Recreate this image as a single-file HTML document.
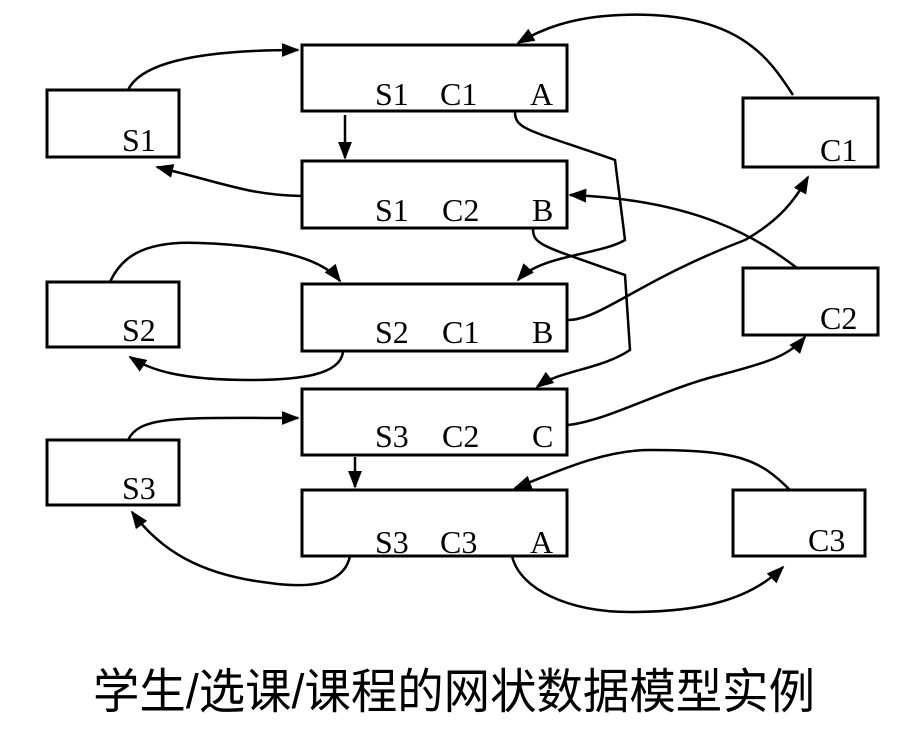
<!DOCTYPE html>
<html><head><meta charset="utf-8"><style>
html,body{margin:0;padding:0;background:#fff;}
svg{display:block;}
text{font-family:"Liberation Serif",serif;fill:#000;}
.cap{font-family:"Liberation Sans","Noto Sans CJK SC",sans-serif;}
</style></head><body>
<svg width="918" height="738" viewBox="0 0 918 738" xmlns="http://www.w3.org/2000/svg">
<defs>
<marker id="a" viewBox="0 0 10 10" refX="9" refY="5" markerWidth="18" markerHeight="14" orient="auto" markerUnits="userSpaceOnUse" preserveAspectRatio="none">
<path d="M0,0 L10,5 L0,10 z" fill="#000"/>
</marker>
</defs>
<g fill="none" stroke="#000" stroke-width="3">
<rect x="302" y="45" width="265" height="66"/>
<rect x="302" y="161" width="265" height="67"/>
<rect x="302" y="284" width="265" height="67"/>
<rect x="302" y="389" width="265" height="66"/>
<rect x="302" y="490" width="265" height="66"/>
<rect x="47" y="90" width="132" height="67"/>
<rect x="47" y="282" width="132" height="65"/>
<rect x="47" y="440" width="132" height="65"/>
<rect x="743" y="98" width="135" height="69"/>
<rect x="743" y="268" width="135" height="67"/>
<rect x="733" y="490" width="132" height="66"/>
</g>
<g fill="none" stroke="#000" stroke-width="2.5" marker-end="url(#a)">
<path d="M128,90 C140,65 190,50 298,50"/>
<path d="M345,115 L345,158"/>
<path d="M302,196 C250,195 230,185 157,167"/>
<path d="M793,95 C770,60 740,10 620,15 C570,17 540,30 518,43"/>
<path d="M515,112 C515,130 530,130 615,160 L625,240 C600,255 540,255 518,280"/>
<path d="M797,268 C760,240 700,200 570,195"/>
<path d="M533,228 C533,245 540,245 625,275 L630,350 C600,370 560,370 537,387"/>
<path d="M110,282 C120,260 140,240 200,243 C260,245 320,255 340,281"/>
<path d="M343,352 C340,375 300,380 250,380 C180,380 150,370 130,357"/>
<path d="M568,320 C600,320 640,280 745,240 C780,220 795,200 808,177"/>
<path d="M568,425 C610,420 660,390 720,375 C770,362 790,355 805,337"/>
<path d="M128,440 C140,415 180,418 298,418"/>
<path d="M355,457 L355,487"/>
<path d="M790,490 C760,460 740,450 650,450 C600,450 550,475 515,488"/>
<path d="M350,556 C345,580 320,590 270,583 C200,575 160,550 132,512"/>
<path d="M512,556 C520,590 570,612 630,612 C700,612 750,600 783,567"/>
</g>
<g font-size="32">
<text x="375" y="105">S1</text><text x="440" y="105">C1</text><text x="530" y="105">A</text>
<text x="375" y="221">S1</text><text x="442" y="221">C2</text><text x="532" y="221">B</text>
<text x="375" y="343">S2</text><text x="442" y="343">C1</text><text x="532" y="343">B</text>
<text x="375" y="447">S3</text><text x="442" y="447">C2</text><text x="532" y="447">C</text>
<text x="375" y="553">S3</text><text x="440" y="553">C3</text><text x="530" y="553">A</text>
<text x="122" y="151">S1</text>
<text x="122" y="341">S2</text>
<text x="122" y="499">S3</text>
<text x="820" y="161">C1</text>
<text x="820" y="329">C2</text>
<text x="808" y="551">C3</text>
</g>
<text class="cap" x="93" y="708" font-size="48" textLength="722" lengthAdjust="spacingAndGlyphs">学生/选课/课程的网状数据模型实例</text>
</svg>
</body></html>
